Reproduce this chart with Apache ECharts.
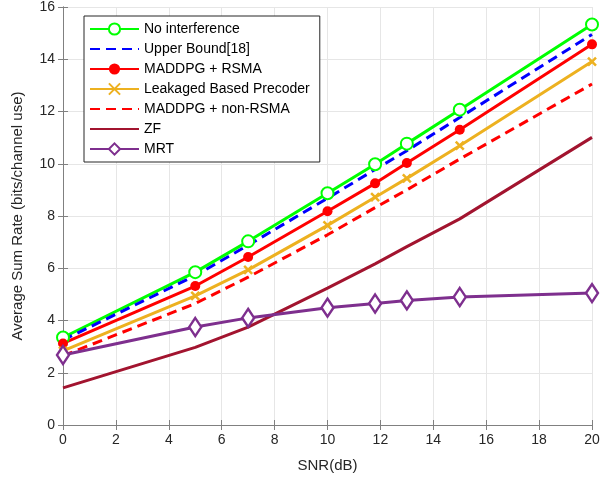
<!DOCTYPE html>
<html>
<head>
<meta charset="utf-8">
<script src="https://cdn.jsdelivr.net/npm/echarts@6/dist/echarts.min.js"></script>
<style>
  html, body { margin: 0; padding: 0; background: #fff; }
  #main { width: 616px; height: 478px; }
</style>
</head>
<body>
<div id="main"></div>
<script>
// SNR points (dB)
const snr = [0, 5, 7, 10, 11.8, 13, 15, 20];
const noInterference = [3.35, 5.85, 7.03, 8.87, 9.98, 10.77, 12.07, 15.33];
const upperBound = [3.25, 5.72, 6.88, 8.68, 9.78, 10.5, 11.77, 14.95];
const maddpgRsma = [3.12, 5.32, 6.43, 8.18, 9.25, 10.03, 11.3, 14.57];
const leakaged = [2.84, 4.94, 5.94, 7.64, 8.72, 9.44, 10.69, 13.91];
const maddpgNonRsma = [2.65, 4.65, 5.66, 7.28, 8.32, 9.0, 10.18, 13.05];
const zf = [1.42, 2.97, 3.75, 5.24, 6.17, 6.83, 7.89, 11.01];
const mrt = [2.68, 3.75, 4.1, 4.49, 4.65, 4.77, 4.9, 5.05];

const pairs = (ys) => snr.map((x, i) => [x, ys[i]]);
const font = 'Liberation Sans, Arial, Helvetica, sans-serif';
const axisGray = '#808080';
const txt = '#262626';

let chart = echarts.init(document.getElementById('main'));

// top and right axes only draw the box ticks
const boxAxis = {
    min: 0,
    axisLine: { show: true, lineStyle: { color: axisGray, width: 1 } },
    axisTick: { show: true, inside: true, length: 5, lineStyle: { color: axisGray } },
    axisLabel: { show: false },
    splitLine: { show: false }
};

// dashed / plain lines have no marker in the legend either
const noMark = (name) => ({ name: name, itemStyle: { opacity: 0 } });

chart.setOption({
    animation: false,
    textStyle: { fontFamily: font },
    grid: { left: 63, right: 24, top: 7, bottom: 53 },
    legend: {
        left: 84, top: 16,
        orient: 'vertical',
        backgroundColor: '#fff',
        borderColor: '#262626',
        borderWidth: 1,
        padding: [6, 10, 6, 5],
        itemGap: 6,
        itemWidth: 49,
        itemHeight: 14,
        textStyle: { fontSize: 14, color: '#000', fontFamily: font },
        data: ['No interference', noMark('Upper Bound[18]'), 'MADDPG + RSMA', 'Leakaged Based Precoder',
               noMark('MADDPG + non-RSMA'), noMark('ZF'), 'MRT']
    },
    xAxis: [{
        type: 'value', min: 0, max: 20, interval: 2,
        name: 'SNR(dB)', nameLocation: 'middle', nameGap: 33,
        nameTextStyle: { fontSize: 15, color: txt, fontFamily: font },
        axisLine: { onZero: false, lineStyle: { color: axisGray } },
        axisTick: { inside: true, length: 5, lineStyle: { color: axisGray } },
        axisLabel: { fontSize: 14, color: txt, margin: 8 },
        splitLine: { show: true, lineStyle: { color: '#e6e6e6' } }
    }, Object.assign({ type: 'value', position: 'top', max: 20, interval: 2 }, boxAxis)],
    yAxis: [{
        type: 'value', min: 0, max: 16, interval: 2,
        name: 'Average Sum Rate (bits/channel use)', nameLocation: 'middle', nameGap: 38,
        nameTextStyle: { fontSize: 15, color: txt, fontFamily: font },
        axisLine: { show: true, onZero: false, lineStyle: { color: axisGray } },
        axisTick: { show: true, inside: true, length: 5, lineStyle: { color: axisGray } },
        axisLabel: { fontSize: 14, color: txt, margin: 8 },
        splitLine: { show: true, lineStyle: { color: '#e6e6e6' } }
    }, Object.assign({ type: 'value', position: 'right', max: 16, interval: 2 }, boxAxis)],
    series: [
        {
            name: 'No interference', type: 'line', data: pairs(noInterference),
            symbol: 'emptyCircle', symbolSize: 12,
            lineStyle: { color: '#00ff00', width: 3 },
            itemStyle: { color: '#00ff00', borderColor: '#00ff00', borderWidth: 2.5 }
        },
        {
            name: 'Upper Bound[18]', type: 'line', data: pairs(upperBound),
            showSymbol: false,
            lineStyle: { color: '#0000ff', width: 3, type: [10, 6] },
            itemStyle: { color: '#0000ff' }
        },
        {
            name: 'MADDPG + RSMA', type: 'line', data: pairs(maddpgRsma),
            symbol: 'circle', symbolSize: 10,
            lineStyle: { color: '#ff0000', width: 3 },
            itemStyle: { color: '#ff0000' }
        },
        {
            name: 'Leakaged Based Precoder', type: 'line', data: pairs(leakaged),
            symbol: 'path://M0,0L10,10M10,0L0,10', symbolSize: 8,
            lineStyle: { color: '#edb120', width: 3 },
            itemStyle: { color: '#edb120', borderColor: '#edb120', borderWidth: 2.5 }
        },
        {
            name: 'MADDPG + non-RSMA', type: 'line', data: pairs(maddpgNonRsma),
            showSymbol: false,
            lineStyle: { color: '#ff0000', width: 3, type: [10, 6] },
            itemStyle: { color: '#ff0000' }
        },
        {
            name: 'ZF', type: 'line', data: pairs(zf),
            showSymbol: false,
            lineStyle: { color: '#a2142f', width: 3 },
            itemStyle: { color: '#a2142f' }
        },
        {
            name: 'MRT', type: 'line', data: pairs(mrt),
            symbol: 'diamond', symbolSize: [12, 18],
            lineStyle: { color: '#7e2f8e', width: 3 },
            itemStyle: { color: '#fff', borderColor: '#7e2f8e', borderWidth: 2.5 }
        }
    ]
});
</script>
</body>
</html>
